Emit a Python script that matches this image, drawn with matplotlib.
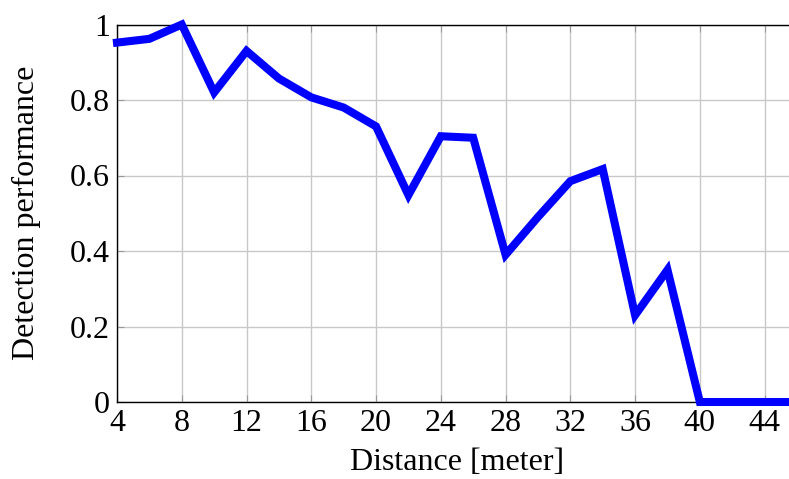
import matplotlib
matplotlib.use('Agg')
import matplotlib.pyplot as plt

distance = [4, 6, 8, 10, 12, 14, 16, 18, 20, 22, 24, 26, 28, 30, 32, 34, 36, 38, 40, 42, 44, 46]
performance = [0.952, 0.962, 1.0, 0.82, 0.93, 0.857, 0.807, 0.78, 0.73, 0.548, 0.704, 0.70,
               0.39, 0.49, 0.585, 0.617, 0.23, 0.35, 0.0, 0.0, 0.0, 0.0]
xticks = [4, 8, 12, 16, 20, 24, 28, 32, 36, 40, 44]
yticks = [0, 0.2, 0.4, 0.6, 0.8, 1]
yticklabels = ['0', '0.2', '0.4', '0.6', '0.8', '1']

plt.rcParams['font.family'] = ['Liberation Serif', 'DejaVu Serif']
plt.rcParams['font.size'] = 23

W, H = 789, 479
fig = plt.figure(figsize=(W / 100, H / 100), dpi=100)
left, right, top, bottom = 117, 797, 24.5, 402
ax = fig.add_axes([left / W, 1 - bottom / H, (right - left) / W, (bottom - top) / H])

ax.plot(distance, performance, color='#0000ff', linewidth=5.8, solid_joinstyle='miter',
        clip_on=False, zorder=3)

ax.set_xlim(4, 46)
ax.set_ylim(0, 1)
ax.set_xticks(xticks)
ax.set_yticks(yticks)
ax.set_yticklabels(yticklabels)
ax.grid(True, color='#c8c8c8', linewidth=1.0)
ax.tick_params(direction='in', length=5, color='#999999', top=True, right=False, pad=5)
for s in ['left', 'bottom', 'top']:
    ax.spines[s].set_linewidth(1.0)
ax.spines['right'].set_visible(False)

ax.set_xlabel('Distance [meter]', labelpad=7)
ax.set_ylabel('Detection performance', labelpad=21)

fig.savefig('out.png', dpi=100)
